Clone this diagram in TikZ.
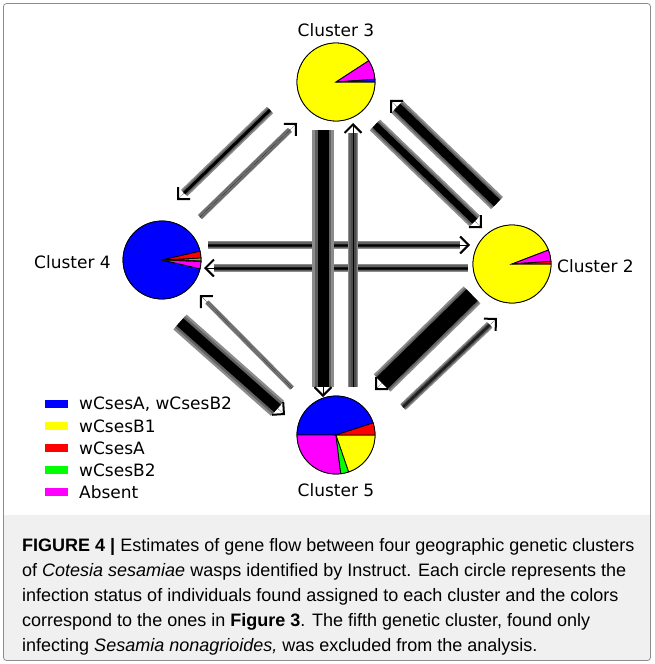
\documentclass[tikz,border=0pt]{standalone}
\usepackage{fontspec}
\setmainfont{Liberation Sans}
\newfontfamily\plotfont{DejaVu Sans}
\usetikzlibrary{arrows.meta, positioning, calc}

\definecolor{pblue}{RGB}{0,0,255}
\definecolor{pyellow}{RGB}{255,255,0}
\definecolor{pred}{RGB}{255,0,0}
\definecolor{pgreen}{RGB}{0,255,0}
\definecolor{pmagenta}{RGB}{255,0,255}

% pie wedge at the origin of the current scope
\newcommand{\pieslice}[3]{\filldraw[fill=#1, draw=black, line width=0.8pt] (0,0) -- (#2:39) arc[start angle=#2, end angle=#3, radius=39] -- cycle;}

\tikzset{
  pie/.style={circle, draw=black, line width=0.8pt, minimum size=78pt, inner sep=0pt, outer sep=0pt},
  clabel/.style={font=\plotfont\fontsize{17}{20}\selectfont, inner sep=0pt},
  swatch/.style={minimum width=23pt, minimum height=8pt, inner sep=0pt, outer sep=0pt},
  flow/.style n args={3}{draw=black!45, line width=#1pt, shorten >=10pt,
    postaction={draw=black!62, line width={0.5*#1pt+0.5*#2pt}},
    postaction={draw=#3, line width=#2pt},
    postaction={draw=black, line width=0.1pt, shorten >=0pt, -{Straight Barb[angle=90:12pt, line width=2pt, sharp]}}}
}

\begin{document}
\begin{tikzpicture}[x=1pt, y=-1pt]
    \useasboundingbox (0,0) rectangle (654,664);
    \fill[black!6] (4,515) rectangle (650,660);
    \draw[black!45, line width=0.8pt, rounded corners=3pt] (3.5,3.5) rectangle (650.5,660.5);

    \node [pie] (c3) at (336,82) {};
    \node [pie] (c4) at (162,260) {};
    \node [pie] (c2) at (512,264) {};
    \node [pie] (c5) at (336,435) {};

    \node [clabel, above=6pt of c3] (l3) {Cluster 3};
    \node [clabel, left=12pt of c4, yshift=-2pt] (l4) {Cluster 4};
    \node [clabel, right=6pt of c2, yshift=-2pt] (l2) {Cluster 2};
    \node [clabel, below=9pt of c5] (l5) {Cluster 5};

    % gene flow between clusters
    \draw[flow={8}{3}{black!90}] ($(c4)+(46,-15)$) -- ($(c2)+(-42,-19)$);
    \draw[flow={8}{3}{black!90}] ($(c2)+(-44,4)$) -- ($(c4)+(42,8)$);
    \draw[flow={22}{11}{black}] ($(c3)+(-13,48)$) -- ($(c5)+(-13,-38)$);
    \draw[flow={10}{5}{black!70}] ($(c5)+(17,-48)$) -- ($(c3)+(17,41)$);
    \draw[flow={9}{3}{black}] ($(c3)+(-66,28)$) -- ($(c4)+(15,-60)$);
    \draw[flow={6}{3}{black!55}] ($(c4)+(38,-43)$) -- ($(c3)+(-39,41)$);
    \draw[flow={17}{9}{black}] ($(c2)+(-15,-61)$) -- ($(c3)+(54,18)$);
    \draw[flow={15}{7}{black}] ($(c3)+(39,43)$) -- ($(c2)+(-30,-36)$);
    \draw[flow={5}{2}{black!50}] ($(c5)+(-44,-47)$) -- ($(c4)+(38,35)$);
    \draw[flow={20}{10}{black}] ($(c4)+(18,62)$) -- ($(c5)+(-51,-20)$);
    \draw[flow={24}{16}{black}] ($(c2)+(-40,31)$) -- ($(c5)+(39,-45)$);
    \draw[flow={8}{3}{black!85}] ($(c5)+(67,-28)$) -- ($(c2)+(-15,54)$);

    % pie charts
    \begin{scope}[shift={(c3)}, yscale=-1]
        \pieslice{pyellow}{33}{360}
        \pieslice{pmagenta}{4}{33}
        \pieslice{pblue}{0}{4}
    \end{scope}
    \begin{scope}[shift={(c4)}, yscale=-1]
        \pieslice{pblue}{13}{347}
        \pieslice{pmagenta}{347}{358}
        \pieslice{pgreen}{358}{360}
        \pieslice{pyellow}{0}{3}
        \pieslice{pred}{3}{13}
    \end{scope}
    \begin{scope}[shift={(c2)}, yscale=-1]
        \pieslice{pyellow}{21}{360}
        \pieslice{pmagenta}{4}{21}
        \pieslice{pred}{0}{4}
    \end{scope}
    \begin{scope}[shift={(c5)}, yscale=-1]
        \pieslice{pblue}{18}{180}
        \pieslice{pmagenta}{180}{277}
        \pieslice{pgreen}{277}{289}
        \pieslice{pyellow}{289}{360}
        \pieslice{pred}{0}{18}
    \end{scope}

    % legend
    \node [swatch, fill=pblue] (k1) at (56.5,404) {};
    \node [swatch, fill=pyellow] (k2) at (56.5,426) {};
    \node [swatch, fill=pred] (k3) at (56.5,448) {};
    \node [swatch, fill=pgreen] (k4) at (56.5,470) {};
    \node [swatch, fill=pmagenta] (k5) at (56.5,492) {};
    \node [clabel, right=11pt of k1] (t1) {wCsesA, wCsesB2};
    \node [clabel, right=11pt of k2] (t2) {wCsesB1};
    \node [clabel, right=11pt of k3] (t3) {wCsesA};
    \node [clabel, right=11pt of k4] (t4) {wCsesB2};
    \node [clabel, right=11pt of k5] (t5) {Absent};

    \node [anchor=base west, align=left, inner sep=0pt, font=\fontsize{18}{25}\selectfont] (caption) at (22,651)
        {\textbf{FIGURE 4 |} Estimates of gene flow between four geographic genetic clusters\\
         of \textit{Cotesia sesamiae} wasps identified by Instruct. Each circle represents the\\
         infection status of individuals found assigned to each cluster and the colors\\
         correspond to the ones in \textbf{Figure 3}. The fifth genetic cluster, found only\\
         infecting \textit{Sesamia nonagrioides,} was excluded from the analysis.};
\end{tikzpicture}
\end{document}
